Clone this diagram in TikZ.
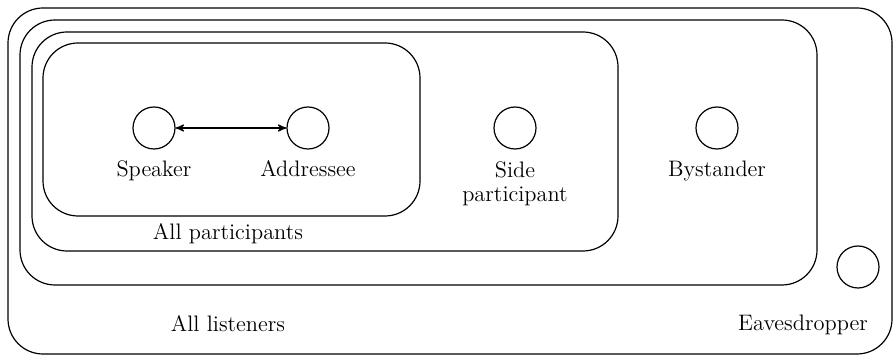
\documentclass[tikz,border=0pt]{standalone}
\usepackage{amsmath,amsfonts,amssymb}
\usepackage{tikz}
\usetikzlibrary{arrows}

\begin{document}
\begin{tikzpicture}[semithick,>=stealth',x=0.5pt,y=-0.5pt]
    \tikzstyle{agent}=[draw=black, circle, minimum size=21pt, inner sep=0pt, fill=none]
    \tikzstyle{role}=[anchor=base, inner sep=0pt, align=center, text=black, font=\fontsize{11.2}{12}\selectfont]
    \tikzstyle{ring}=[draw=black, rounded corners=17.5pt]

    \useasboundingbox (0,0) rectangle (894,357);

    % nested groups
    \draw[ring] (8,8)   rectangle (892,354);
    \draw[ring] (20,20) rectangle (817,285);
    \draw[ring] (32,32) rectangle (618,251);
    \draw[ring] (43,43) rectangle (420,216);

    \node[agent] (spk)   at (154,128) {};
    \node[agent] (adr)   at (308,128) {};
    \node[agent] (side)  at (515,128) {};
    \node[agent] (byst)  at (717,128) {};
    \node[agent] (eaves) at (858,267) {};

    % base anchor of a two-line node sits on its last line
    \node[role] (spkl)   at (154,177) {Speaker};
    \node[role] (adrl)   at (308,177) {Addressee};
    \node[role] (sidel)  at (515,202) {Side\\participant};
    \node[role] (bystl)  at (717,177) {Bystander};
    \node[role] (partl)  at (228,240) {All participants};
    \node[role] (listl)  at (228,332) {All listeners};
    \node[role] (eavesl) at (803,331) {Eavesdropper};

    \path
     (spk) edge[<->] (adr)
     ;
\end{tikzpicture}
\end{document}
